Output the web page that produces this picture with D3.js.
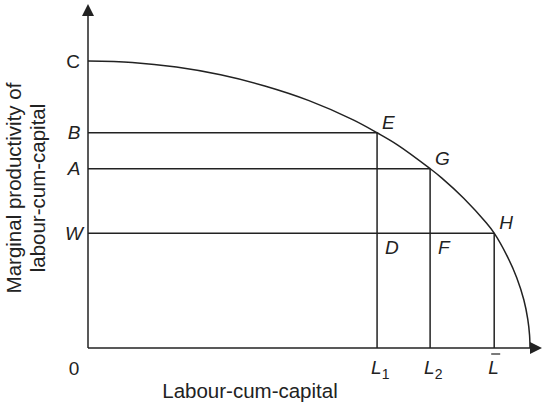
<!DOCTYPE html>
<html>
<head>
<meta charset="utf-8">
<script src="https://cdn.jsdelivr.net/npm/d3@7"></script>
<style>
  body { margin: 0; background: #fff; }
  svg { display: block; font-family: "Liberation Sans", Arial, Helvetica, sans-serif; }
  text { fill: #222; }
</style>
</head>
<body>
<svg></svg>
<script>
// marginal productivity curve (x = labour-cum-capital, y = MP)
var curveX = [0, 1, 2, 3, 4, 5, 6, 6.54, 7, 7.74, 8, 8.5, 9, 9.19, 9.5, 9.7, 9.86, 9.95, 9.99, 10];
var curveY = [10, 9.95, 9.79, 9.52, 9.13, 8.62, 7.95, 7.5, 7.08, 6.25, 5.93, 5.22, 4.38, 4.0, 3.15, 2.45, 1.68, 1.0, 0.45, 0];

// levels on the y axis and the matching labour amounts
var levelNames = ["B", "A", "W"];
var levelValues = [7.5, 6.25, 4.0];
var labourNames = ["L1", "L2", "Lbar"];
var labourValues = [6.54, 7.74, 9.19];
var pointNames = ["E", "G", "H"];   // where level meets curve
var lowerNames = ["D", "F"];        // L1, L2 at W

var width = 543, height = 404;
var ink = "#222";

var svg = d3.select("svg").attr("width", width).attr("height", height);

var x = d3.scaleLinear().domain([0, 10]).range([88, 530]);
var y = d3.scaleLinear().domain([0, 10]).range([348, 61]);

// axes
svg.append("line")
    .attr("x1", x(0)).attr("y1", y(0)).attr("x2", x(0)).attr("y2", 14)
    .attr("stroke", ink).attr("stroke-width", 1.5);
svg.append("path")
    .attr("d", "M" + x(0) + ",4 L" + (x(0) - 6) + ",16 L" + (x(0) + 6) + ",16 Z")
    .attr("fill", ink);
svg.append("line")
    .attr("x1", x(0)).attr("y1", y(0)).attr("x2", 532).attr("y2", y(0))
    .attr("stroke", ink).attr("stroke-width", 1.5);
svg.append("path")
    .attr("d", "M542," + y(0) + " L530," + (y(0) - 6) + " L530," + (y(0) + 6) + " Z")
    .attr("fill", ink);

// curve
var pts = curveX.map(function (d, i) { return [d, curveY[i]]; });
var line = d3.line()
    .x(function (d) { return x(d[0]); })
    .y(function (d) { return y(d[1]); })
    .curve(d3.curveCatmullRom.alpha(0.5));
svg.append("path")
    .datum(pts)
    .attr("d", line)
    .attr("fill", "none")
    .attr("stroke", ink)
    .attr("stroke-width", 1.5);

// horizontals and verticals
levelValues.forEach(function (v, i) {
  svg.append("line")
      .attr("x1", x(0)).attr("x2", x(labourValues[i]))
      .attr("y1", y(v)).attr("y2", y(v))
      .attr("stroke", ink).attr("stroke-width", 1.5);
  svg.append("line")
      .attr("x1", x(labourValues[i])).attr("x2", x(labourValues[i]))
      .attr("y1", y(0)).attr("y2", y(v))
      .attr("stroke", ink).attr("stroke-width", 1.5);
});

var fs = 19;

// y axis letters
svg.append("text").attr("x", 73).attr("y", y(10)).attr("dy", "0.35em")
    .attr("text-anchor", "middle").style("font-size", fs + "px").text("C");
levelNames.forEach(function (n, i) {
  svg.append("text").attr("x", 74).attr("y", y(levelValues[i])).attr("dy", "0.35em")
      .attr("text-anchor", "middle").style("font-size", fs + "px")
      .style("font-style", "italic").text(n);
});
svg.append("text").attr("x", 74).attr("y", 375)
    .attr("text-anchor", "middle").style("font-size", fs + "px").text("0");

// point labels
pointNames.forEach(function (n, i) {
  svg.append("text")
      .attr("x", x(labourValues[i]) + 5).attr("y", y(levelValues[i]) - 4)
      .style("font-size", fs + "px").style("font-style", "italic").text(n);
});
lowerNames.forEach(function (n, i) {
  svg.append("text")
      .attr("x", x(labourValues[i]) + 8).attr("y", y(levelValues[2]) + 21)
      .style("font-size", fs + "px").style("font-style", "italic").text(n);
});

// L labels under the x axis
labourNames.forEach(function (n, i) {
  var t = svg.append("text")
      .attr("x", x(labourValues[i]) - 6).attr("y", 374)
      .style("font-size", fs + "px");
  t.append("tspan").style("font-style", "italic").text("L");
  if (n === "L1" || n === "L2") {
    t.append("tspan").attr("dy", 5).style("font-size", "14px").text(n.slice(1));
  } else {
    svg.append("line")
        .attr("x1", x(labourValues[i]) - 3).attr("x2", x(labourValues[i]) + 6)
        .attr("y1", 354).attr("y2", 354)
        .attr("stroke", ink).attr("stroke-width", 1.2);
  }
});

// axis titles
svg.append("text").attr("x", 250).attr("y", 398)
    .attr("text-anchor", "middle").style("font-size", "20.5px").text("Labour-cum-capital");
svg.append("text")
    .attr("transform", "translate(21,188) rotate(-90)")
    .attr("text-anchor", "middle").style("font-size", "20.5px").text("Marginal productivity of");
svg.append("text")
    .attr("transform", "translate(45,188) rotate(-90)")
    .attr("text-anchor", "middle").style("font-size", "20.5px").text("labour-cum-capital");
</script>
</body>
</html>
